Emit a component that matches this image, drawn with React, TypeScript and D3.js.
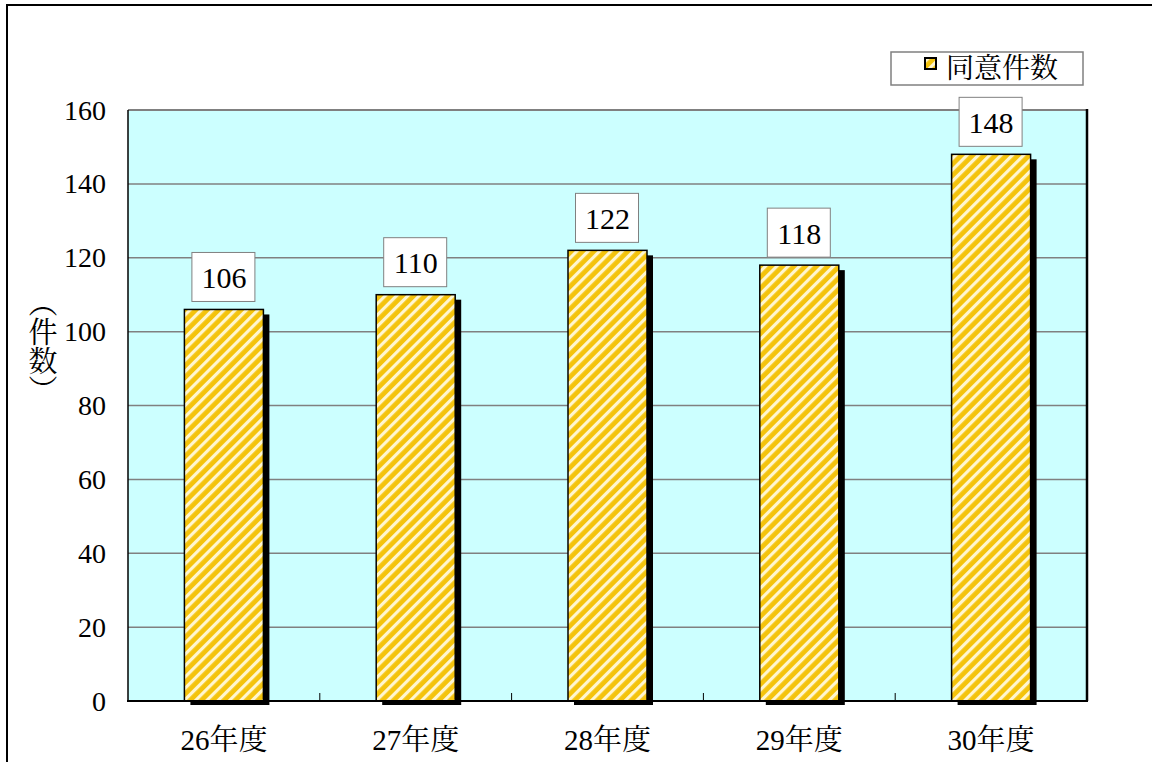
import React from "react";
import * as d3 from "d3";

const categories = ["26年度", "27年度", "28年度", "29年度", "30年度"];
const values = [106, 110, 122, 118, 148];
const yTicks = [0, 20, 40, 60, 80, 100, 120, 140, 160];
const seriesName = "同意件数";
const axisTitle = ["（", "件", "数", "）"];

const W = 1152;
const H = 762;
const plot = { left: 128, right: 1087, top: 110, bottom: 701 };
const FONT = "'Liberation Serif', 'Noto Serif CJK JP', serif";
const ts: React.CSSProperties = { fontFamily: FONT };

export default function App() {
  const x = d3
    .scaleBand<string>()
    .domain(categories)
    .range([plot.left, plot.right])
    .paddingInner(0)
    .paddingOuter(0);
  const y = d3.scaleLinear().domain([0, 160]).range([plot.bottom, plot.top]);
  const barW = 79;
  const bw = x.bandwidth();

  return (
    <svg
      width={W}
      height={H}
      style={{ position: "absolute", left: 0, top: 0, background: "#fff" }}
    >
      <defs>
        <pattern
          id="hatch"
          patternUnits="userSpaceOnUse"
          width={8}
          height={8}
          patternTransform="rotate(45)"
        >
          <rect width={8} height={8} fill="#f4c30c" />
          <rect x={0} y={0} width={3.2} height={8} fill="#fff6d0" />
        </pattern>
      </defs>
      {/* outer border */}
      <rect x={7} y={5} width={W + 20} height={H + 20} fill="none" stroke="#000" strokeWidth={2} />

      {/* plot area */}
      <rect
        x={plot.left}
        y={plot.top}
        width={plot.right - plot.left}
        height={plot.bottom - plot.top}
        fill="#ccffff"
      />
      {yTicks.map((t) => (
        <line
          key={t}
          x1={plot.left}
          x2={plot.right}
          y1={y(t)}
          y2={y(t)}
          stroke="#808080"
          strokeWidth={1.5}
        />
      ))}
      <line x1={plot.left} x2={plot.right} y1={plot.top} y2={plot.top} stroke="#808080" strokeWidth={2} />
      <line x1={plot.right} x2={plot.right} y1={plot.top - 1} y2={plot.bottom} stroke="#000" strokeWidth={2.5} />

      {/* bars */}
      {categories.map((c, i) => {
        const cx = (x(c) as number) + bw / 2;
        const top = y(values[i]);
        return (
          <g key={c}>
            <rect
              x={cx - barW / 2 + 6}
              y={top + 5}
              width={barW}
              height={plot.bottom - top - 1}
              fill="#000"
            />
            <rect
              x={cx - barW / 2}
              y={top}
              width={barW}
              height={plot.bottom - top}
              fill="url(#hatch)"
              stroke="#000"
              strokeWidth={1.5}
            />
          </g>
        );
      })}

      {/* axes */}
      <line x1={plot.left} x2={plot.left} y1={plot.top} y2={plot.bottom} stroke="#000" strokeWidth={1.5} />
      <line x1={plot.left - 1} x2={plot.right + 1} y1={plot.bottom} y2={plot.bottom} stroke="#000" strokeWidth={2} />
      {categories.slice(1).map((c) => (
        <line
          key={c}
          x1={x(c) as number}
          x2={x(c) as number}
          y1={plot.bottom}
          y2={plot.bottom - 8}
          stroke="#000"
          strokeWidth={1}
        />
      ))}
      {yTicks.map((t) => (
        <text
          key={t}
          x={106}
          y={y(t)}
          textAnchor="end"
          dominantBaseline="central"
          fontSize={28}
          fill="#000"
          style={ts}
        >
          {t}
        </text>
      ))}
      {categories.map((c) => (
        <text
          key={c}
          x={(x(c) as number) + bw / 2}
          y={740}
          textAnchor="middle"
          dominantBaseline="central"
          fontSize={29}
          fill="#000"
          style={ts}
        >
          {c}
        </text>
      ))}

      {/* value labels */}
      {categories.map((c, i) => {
        const cx = (x(c) as number) + bw / 2;
        const top = y(values[i]);
        return (
          <g key={c}>
            <rect
              x={cx - 32}
              y={top - 57}
              width={63}
              height={49}
              fill="#fff"
              stroke="#808080"
              strokeWidth={1}
            />
            <text
              x={cx}
              y={top - 32}
              textAnchor="middle"
              dominantBaseline="central"
              fontSize={30}
              fill="#000"
              style={ts}
            >
              {values[i]}
            </text>
          </g>
        );
      })}

      {/* y axis title */}
      <text
        x={43}
        y={288}
        style={{ writingMode: "vertical-rl" as any, fontFamily: "'Noto Serif CJK JP', serif" }}
        fontSize={29}
        fill="#000"
      >
        {axisTitle.join("")}
      </text>

      {/* legend */}
      <rect x={891} y={52} width={192} height={33} fill="#fff" stroke="#808080" strokeWidth={1.5} />
      <rect x={925} y={58} width={11} height={11} fill="url(#hatch)" stroke="#000" strokeWidth={2} />
      <text
        x={946}
        y={66}
        dominantBaseline="central"
        fontSize={28}
        fill="#000"
        style={{ fontFamily: "'Noto Serif CJK JP', serif" }}
      >
        {seriesName}
      </text>
    </svg>
  );
}
